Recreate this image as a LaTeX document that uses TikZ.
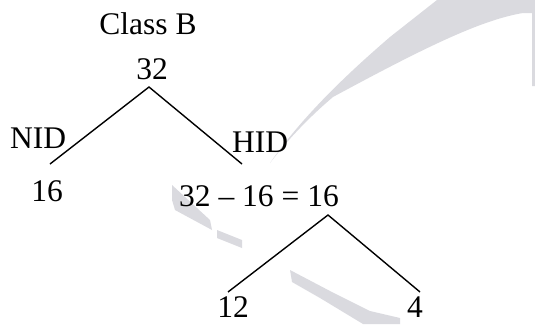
\documentclass[tikz,border=0pt]{standalone}
\usepackage{fontspec}
\setmainfont{Liberation Serif}
\usepackage{tikz}
\usetikzlibrary{positioning,calc}
\usepackage{xcolor}
\definecolor{mark}{RGB}{218,218,223}

\begin{document}
\begin{tikzpicture}[
  x=1pt, y=-1pt,
  num/.style={anchor=base, inner sep=0pt, font=\fontsize{31.5}{36}\selectfont},
  branch/.style={line width=1.4pt, black},
  swoosh/.style={fill=mark, draw=none}
]
\useasboundingbox (0,0) rectangle (535,324);

% watermark
\fill[swoosh] (270,163) .. controls (300,120) and (340,80) .. (390,37)
  -- (437,0) -- (535,0) -- (535,86) -- (532,86) -- (532,13) -- (523,13)
  .. controls (480,20) and (420,50) .. (333,97)
  .. controls (300,125) and (280,150) .. (270,163) -- cycle;
\fill[swoosh] (172,185) -- (210,220) -- (212,230) -- (175,210) -- (172,200) -- cycle;
\fill[swoosh] (217,230) -- (242,240) -- (242,248) -- (217,238) -- cycle;
\fill[swoosh] (290,270) -- (330,291) -- (370,311) -- (400,318) -- (400,324)
  -- (363,324) -- (320,298) -- (292,282) -- cycle;

\node[num] (title) at (148,34) {Class B};
\node[num] (root) at (152,79) {32};
\node[num, anchor=base west] (nid) at (10,148) {NID};
\node[num, anchor=base west] (hid) at (232,152) {HID};
\node[num] (net) at (47,201) {16};
\node[num] (host) at (259,206) {32 -- 16 = 16};
\node[num] (sub) at (233,317) {12};
\node[num] (hst) at (415,317) {4};

\coordinate (apex) at (149,87);
\coordinate (netend) at (50,164);
\coordinate (hostend) at (242,164);
\coordinate (apex2) at (328,215);
\coordinate (subend) at (228,292);
\coordinate (hstend) at (420,292);

\draw[branch] (netend) -- (apex) -- (hostend);
\draw[branch] (subend) -- (apex2) -- (hstend);
\end{tikzpicture}
\end{document}
